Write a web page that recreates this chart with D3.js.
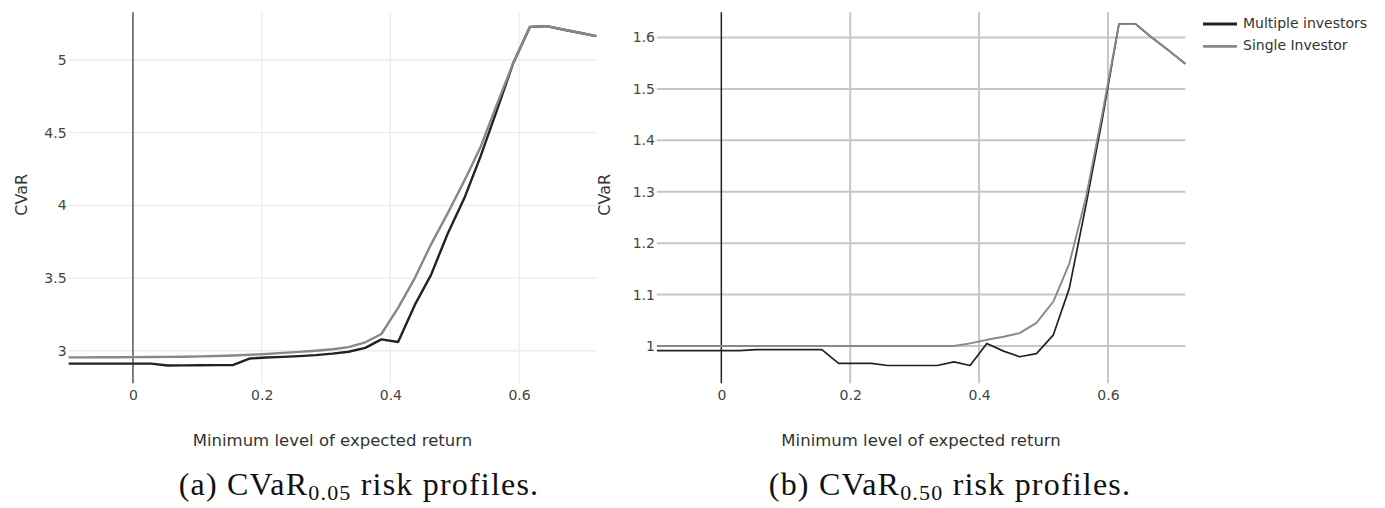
<!DOCTYPE html>
<html>
<head>
<meta charset="utf-8">
<script src="https://cdn.jsdelivr.net/npm/d3@7"></script>
<style>
  body { margin: 0; background: #fff; }
  svg { display: block; }
</style>
</head>
<body>
<svg id="chart" width="1385" height="508"></svg>
<script>
// Minimum level of expected return (x grid shared by both panels)
const returnLevels = [
  -0.100, -0.074, -0.049, -0.023, 0.002, 0.028, 0.054, 0.079, 0.105, 0.130, 0.156,
  0.182, 0.207, 0.233, 0.258, 0.284, 0.310, 0.335, 0.361, 0.386, 0.412, 0.438,
  0.463, 0.489, 0.515, 0.540, 0.566, 0.591, 0.617, 0.643, 0.668, 0.694, 0.720
];

// CVaR 0.05 profiles
const cvar05Multiple = [
  2.911, 2.911, 2.911, 2.911, 2.911, 2.911, 2.898, 2.899, 2.900, 2.901, 2.902,
  2.947, 2.953, 2.958, 2.963, 2.970, 2.980, 2.993, 3.020, 3.078, 3.060, 3.315,
  3.520, 3.805, 4.050, 4.335, 4.660, 4.980, 5.228, 5.233, 5.210, 5.187, 5.164
];
const cvar05Single = [
  2.954, 2.954, 2.955, 2.955, 2.956, 2.957, 2.958, 2.959, 2.961, 2.964, 2.967,
  2.972, 2.978, 2.985, 2.992, 3.000, 3.010, 3.025, 3.058, 3.115, 3.295, 3.500,
  3.730, 3.945, 4.170, 4.400, 4.700, 4.980, 5.228, 5.233, 5.210, 5.187, 5.164
];

// CVaR 0.50 profiles
const cvar50Multiple = [
  0.991, 0.991, 0.991, 0.991, 0.991, 0.991, 0.993, 0.993, 0.993, 0.993, 0.993,
  0.966, 0.966, 0.966, 0.962, 0.962, 0.962, 0.962, 0.969, 0.962, 1.005, 0.990,
  0.979, 0.985, 1.021, 1.112, 1.275, 1.440, 1.626, 1.626, 1.600, 1.575, 1.549
];
const cvar50Single = [
  1.000, 1.000, 1.000, 1.000, 1.000, 1.000, 1.000, 1.000, 1.000, 1.000, 1.000,
  1.000, 1.000, 1.000, 1.000, 1.000, 1.000, 1.000, 1.000, 1.005, 1.012, 1.018,
  1.025, 1.045, 1.086, 1.160, 1.290, 1.450, 1.626, 1.626, 1.600, 1.575, 1.549
];

// Tick labels
const xTicks = [0, 0.2, 0.4, 0.6];
const cvar05Ticks = [3, 3.5, 4, 4.5, 5];
const cvar50Ticks = [1, 1.1, 1.2, 1.3, 1.4, 1.5, 1.6];

const seriesNames = ["Multiple investors", "Single Investor"];
const seriesColors = ["#222222", "#888888"];

const xDomain = [-0.1, 0.72];

const panels = [
  {
    box: { left: 68.6, right: 596.3, top: 12.3, bottom: 383.3 },
    yDomain: [2.776, 5.328],
    yTicks: cvar05Ticks,
    series: [cvar05Multiple, cvar05Single],
    gridColor: "#ececec", gridWidth: 1.3,
    zeroColor: "#555", lineWidth: [2.4, 2.4],
    titleOffset: 46,
    caption: { label: "(a) CVaR", sub: "0.05", rest: " risk profiles.", x: 359 }
  },
  {
    box: { left: 656.9, right: 1185.3, top: 12.3, bottom: 383.3 },
    yDomain: [0.9274, 1.649],
    yTicks: cvar50Ticks,
    series: [cvar50Multiple, cvar50Single],
    gridColor: "#c6c6c6", gridWidth: 2,
    zeroColor: "#222", lineWidth: [1.7, 1.9],
    titleOffset: 51,
    caption: { label: "(b) CVaR", sub: "0.50", rest: " risk profiles.", x: 950 }
  }
];

const svg = d3.select("#chart");
svg.append("rect").attr("width", 1385).attr("height", 508).attr("fill", "#fff");

const uiFont = "'DejaVu Sans', Verdana, sans-serif";

panels.forEach(p => {
  const b = p.box;
  const x = d3.scaleLinear().domain(xDomain).range([b.left, b.right]);
  const y = d3.scaleLinear().domain(p.yDomain).range([b.bottom, b.top]);
  const g = svg.append("g");

  // grid
  g.append("g").selectAll("line").data(p.yTicks).join("line")
    .attr("x1", b.left).attr("x2", b.right)
    .attr("y1", d => y(d)).attr("y2", d => y(d))
    .attr("stroke", p.gridColor).attr("stroke-width", p.gridWidth);
  g.append("g").selectAll("line").data(xTicks.filter(d => d !== 0)).join("line")
    .attr("x1", d => x(d)).attr("x2", d => x(d))
    .attr("y1", b.top).attr("y2", b.bottom)
    .attr("stroke", p.gridColor).attr("stroke-width", p.gridWidth);

  // zero line
  g.append("line")
    .attr("x1", x(0)).attr("x2", x(0))
    .attr("y1", b.top).attr("y2", b.bottom)
    .attr("stroke", p.zeroColor).attr("stroke-width", 1.5);

  // axes (labels only)
  const xAxis = g.append("g")
    .attr("transform", `translate(0,${b.bottom + 4})`)
    .call(d3.axisBottom(x).tickValues(xTicks).tickSize(0).tickFormat(d3.format("~g")));
  const yAxis = g.append("g")
    .attr("transform", `translate(${b.left - 2},0)`)
    .call(d3.axisLeft(y).tickValues(p.yTicks).tickSize(0).tickFormat(d3.format("~g")));
  [xAxis, yAxis].forEach(a => {
    a.select(".domain").remove();
    a.selectAll("text").attr("font-family", uiFont).attr("font-size", 14).attr("fill", "#444");
  });
  xAxis.selectAll("text").attr("dy", "0.71em").attr("y", 3);
  yAxis.selectAll("text").attr("x", 0);

  // axis titles
  g.append("text")
    .attr("x", (b.left + b.right) / 2).attr("y", 446)
    .attr("text-anchor", "middle")
    .attr("font-family", uiFont).attr("font-size", 16.5).attr("fill", "#333")
    .text("Minimum level of expected return");
  g.append("text")
    .attr("transform", `translate(${b.left - p.titleOffset},${(b.top + b.bottom) / 2 - 3}) rotate(-90)`)
    .attr("text-anchor", "middle").attr("dominant-baseline", "middle")
    .attr("font-family", uiFont).attr("font-size", 16).attr("fill", "#333")
    .text("CVaR");

  // series
  const line = d3.line().x((d, i) => x(returnLevels[i])).y(d => y(d));
  p.series.forEach((vals, si) => {
    g.append("path")
      .datum(vals)
      .attr("d", line)
      .attr("fill", "none")
      .attr("stroke", seriesColors[si])
      .attr("stroke-width", p.lineWidth[si])
      .attr("stroke-linejoin", "round");
  });

  // caption
  const cap = svg.append("text")
    .attr("x", p.caption.x).attr("y", 495)
    .attr("text-anchor", "middle")
    .attr("font-family", "'Liberation Serif', 'Times New Roman', serif")
    .attr("font-size", 32).attr("letter-spacing", 1.2).attr("fill", "#111");
  cap.append("tspan").text(p.caption.label);
  cap.append("tspan").attr("font-size", 22).attr("dy", 5).text(p.caption.sub);
  cap.append("tspan").attr("dy", -5).text(p.caption.rest);
});

// legend
const legend = svg.append("g").attr("transform", "translate(1203,24)");
seriesNames.forEach((name, i) => {
  const row = legend.append("g").attr("transform", `translate(0,${i * 22.3})`);
  row.append("line").attr("x1", 0).attr("x2", 34).attr("y1", 0).attr("y2", 0)
    .attr("stroke", seriesColors[i]).attr("stroke-width", 2.8);
  row.append("text").attr("x", 40).attr("y", 0).attr("dominant-baseline", "middle")
    .attr("font-family", uiFont).attr("font-size", 14).attr("fill", "#333")
    .text(name);
});
</script>
</body>
</html>
